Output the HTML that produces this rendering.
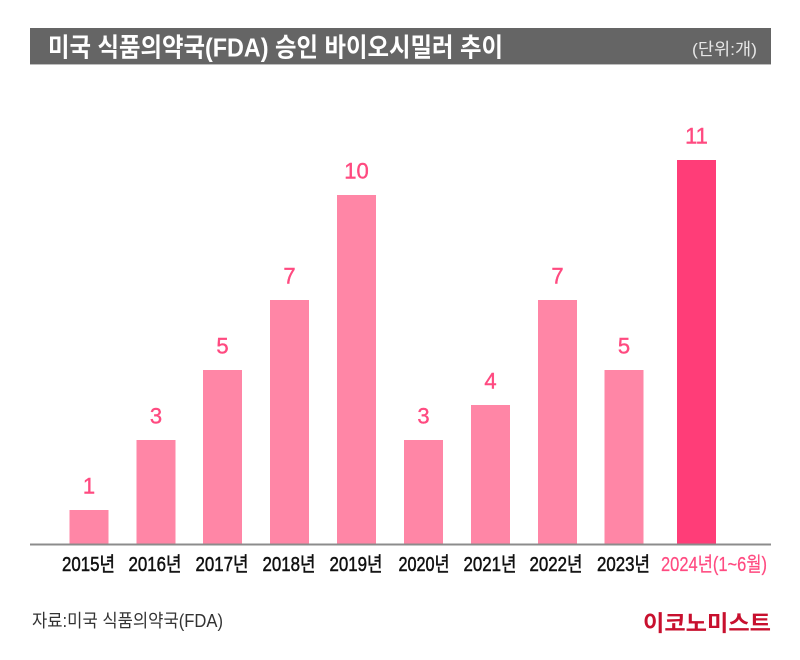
<!DOCTYPE html>
<html>
<head>
<meta charset="utf-8">
<style>
  html,body{margin:0;padding:0;background:#fff;}
  svg{display:block;}
  .kr{font-family:"Liberation Sans","Noto Sans CJK KR",sans-serif;}
</style>
</head>
<body>
<svg width="800" height="660" viewBox="0 0 800 660" xmlns="http://www.w3.org/2000/svg">
  <rect x="0" y="0" width="800" height="660" fill="#ffffff"/>
  <!-- title bar -->
  <rect x="30" y="28" width="741" height="37" fill="#656565"/>
  <rect x="30" y="64" width="741" height="1" fill="#bdbdbd"/>
  <text class="kr" x="48" y="56.5" font-size="26" font-weight="700" fill="#ffffff" textLength="455" lengthAdjust="spacingAndGlyphs">미국 식품의약국(FDA) 승인 바이오시밀러 추이</text>
  <text class="kr" x="692" y="55" font-size="17" fill="#e6e6e6" textLength="65" lengthAdjust="spacingAndGlyphs">(단위:개)</text>

  <!-- bars -->
  <g fill="#ff86a6">
    <rect x="69.5" y="510" width="39" height="35"/>
    <rect x="136.5" y="440" width="39" height="105"/>
    <rect x="203" y="370" width="39" height="175"/>
    <rect x="270" y="300" width="39" height="245"/>
    <rect x="337" y="195" width="39" height="350"/>
    <rect x="404" y="440" width="39" height="105"/>
    <rect x="471" y="405" width="39" height="140"/>
    <rect x="538" y="300" width="39" height="245"/>
    <rect x="604.5" y="370" width="39" height="175"/>
  </g>
  <rect x="677" y="160" width="39" height="385" fill="#ff3d78"/>

  <!-- axis -->
  <rect x="30" y="543.5" width="741" height="2" fill="#8c8c8c"/>

  <!-- value labels -->
  <g font-family="Liberation Sans, sans-serif" font-size="22" fill="#ff4a80" stroke="#ff4a80" stroke-width="0.4" text-anchor="middle">
    <text x="89" y="493.5">1</text>
    <text x="156" y="423.5">3</text>
    <text x="222.5" y="353.5">5</text>
    <text x="289.5" y="283.5">7</text>
    <text x="356.5" y="178.5">10</text>
    <text x="423.5" y="423.5">3</text>
    <text x="490.5" y="388.5">4</text>
    <text x="557.5" y="283.5">7</text>
    <text x="624" y="353.5">5</text>
    <text x="696.5" y="143.5">11</text>
  </g>

  <!-- x labels -->
  <g class="kr" font-size="20" fill="#111111" stroke="#111111" stroke-width="0.5" text-anchor="middle">
    <text x="88.5" y="571" textLength="53" lengthAdjust="spacingAndGlyphs">2015년</text>
    <text x="155" y="571" textLength="53" lengthAdjust="spacingAndGlyphs">2016년</text>
    <text x="222" y="571" textLength="53" lengthAdjust="spacingAndGlyphs">2017년</text>
    <text x="289" y="571" textLength="53" lengthAdjust="spacingAndGlyphs">2018년</text>
    <text x="356" y="571" textLength="53" lengthAdjust="spacingAndGlyphs">2019년</text>
    <text x="424" y="571" textLength="51" lengthAdjust="spacingAndGlyphs">2020년</text>
    <text x="490" y="571" textLength="53" lengthAdjust="spacingAndGlyphs">2021년</text>
    <text x="556" y="571" textLength="53" lengthAdjust="spacingAndGlyphs">2022년</text>
    <text x="623.5" y="571" textLength="53" lengthAdjust="spacingAndGlyphs">2023년</text>
  </g>
  <text class="kr" x="661" y="571" font-size="20" fill="#ff4a80" stroke="#ff4a80" stroke-width="0.2" textLength="106" lengthAdjust="spacingAndGlyphs">2024년(1~6월)</text>

  <!-- source -->
  <text class="kr" x="32" y="627" font-size="18" fill="#333333" textLength="191" lengthAdjust="spacingAndGlyphs">자료:미국 식품의약국(FDA)</text>

  <!-- logo -->
  <text class="kr" x="643" y="631" font-size="22" font-weight="700" fill="#c8102e" textLength="128" lengthAdjust="spacingAndGlyphs">이코노미스트</text>
</svg>
</body>
</html>
